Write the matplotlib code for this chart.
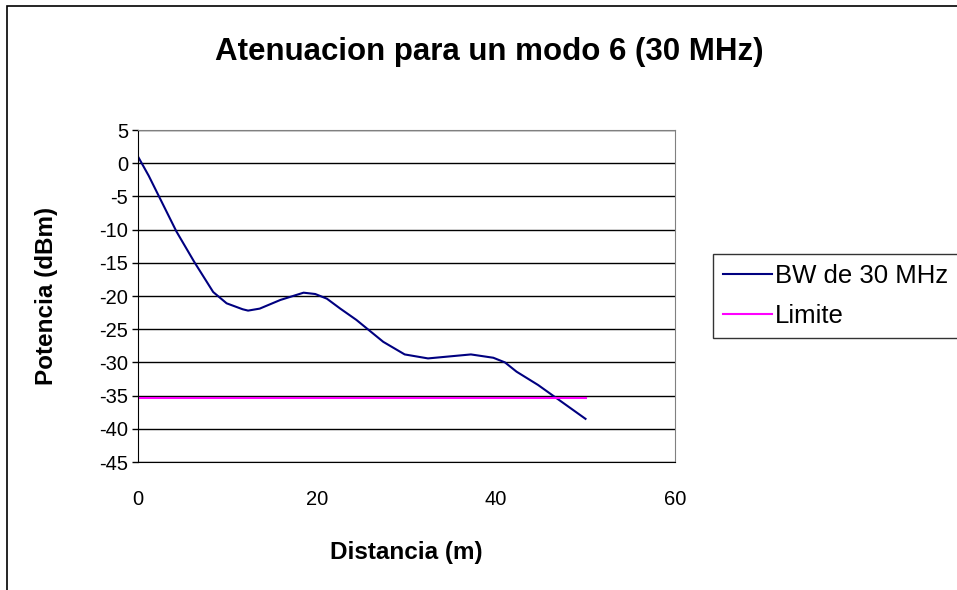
import matplotlib
matplotlib.use('Agg')
import matplotlib.pyplot as plt
from matplotlib.patches import Rectangle

plt.rcParams['font.family'] = ['Liberation Sans', 'DejaVu Sans']
plt.rcParams['axes.unicode_minus'] = False

# datos
distancia = [0, 1.2, 4.3, 6.3, 8.4, 9.9, 11.7, 12.3, 13.6, 15.9, 18.5, 19.8,
             21.1, 22.6, 24.4, 27.4, 29.8, 32.4, 37.2, 39.7, 41.0, 42.3, 44.7, 50.0]
potencia = [1.0, -1.9, -10.3, -14.9, -19.4, -21.1, -22.0, -22.2, -21.9, -20.6, -19.5, -19.7,
            -20.4, -21.9, -23.6, -26.9, -28.8, -29.4, -28.8, -29.3, -30.0, -31.4, -33.4, -38.5]
limite_x = [0, 50]
limite_y = [-35.4, -35.4]

fig = plt.figure(figsize=(9.57, 5.9), dpi=100)
ax = fig.add_axes([138/957, 1-462/590, (675-138)/957, (462-130)/590])

# marco del area del grafico (recortado a la derecha y abajo)
fig.patches.append(Rectangle((7/957, -0.1), 2, 1-6/590+0.1, transform=fig.transFigure,
                             fill=False, edgecolor='black', linewidth=1.2))

ax.plot(distancia, potencia, color='#000080', linewidth=1.5, label='BW de 30 MHz')
ax.plot(limite_x, limite_y, color='#FF00FF', linewidth=1.5, label='Limite')

ax.set_xlim(0, 60)
ax.set_ylim(-45, 5)
ax.set_xticks([0, 20, 40, 60])
ax.set_yticks(range(-45, 6, 5))
ax.yaxis.grid(True, color='black', linewidth=1)
ax.set_axisbelow(True)
ax.tick_params(axis='y', labelsize=14.5, length=4, direction='out', width=1, pad=3)
ax.tick_params(axis='x', labelsize=14.5, length=0, pad=20)
for s in ['top', 'right']:
    ax.spines[s].set_color('#808080')
for s in ['left', 'bottom']:
    ax.spines[s].set_color('black')

ax.set_xlabel('Distancia (m)', fontsize=17.5, fontweight='bold', labelpad=23)
ax.set_ylabel('Potencia (dBm)', fontsize=17.5, fontweight='bold', labelpad=30)
fig.text(489/957, 1-52/590, 'Atenuacion para un modo 6 (30 MHz)', fontsize=22.5,
         fontweight='bold', ha='center', va='center')

# la leyenda sale del borde derecho como en el original
leg = fig.legend(loc='upper left', bbox_to_anchor=(713/957, 1-338/590, 0.3, 84/590),
                 mode='expand', fontsize=18.5, frameon=True, fancybox=False,
                 edgecolor='black', handlelength=1.9, handletextpad=0.1, borderaxespad=0,
                 labelspacing=0.6, borderpad=0.4)
leg.get_frame().set_linewidth(1)

fig.savefig('out.png', dpi=100)
